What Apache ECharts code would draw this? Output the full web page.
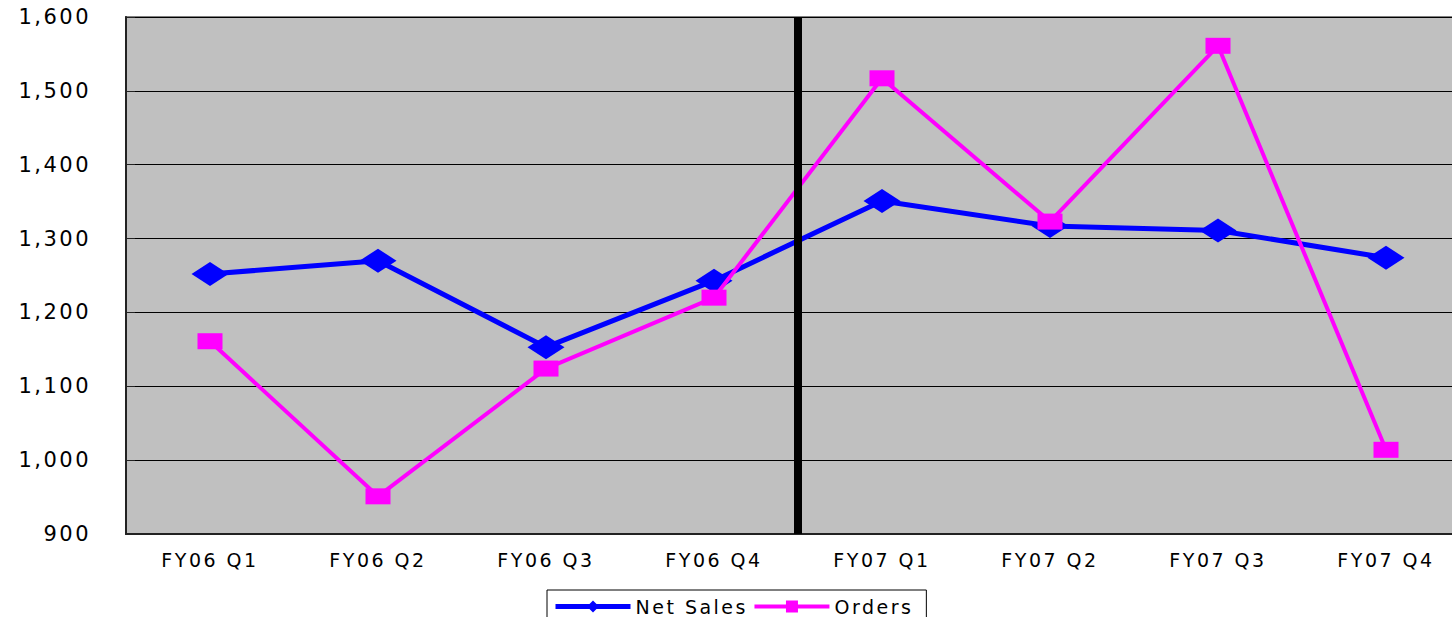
<!DOCTYPE html>
<html>
<head>
<meta charset="utf-8">
<title>Net Sales and Orders</title>
<script src="https://cdn.jsdelivr.net/npm/echarts@6/dist/echarts.min.js"></script>
<style>
  html, body { margin: 0; padding: 0; background: #ffffff; overflow: hidden; }
  /* the plot runs a little past the right edge of the window */
  #chart { width: 1470px; height: 617px; }
  #chart text { letter-spacing: 2.5px; }
</style>
</head>
<body>
<div id="chart"></div>
<script>
// Quarterly figures
const quarters = ['FY06 Q1', 'FY06 Q2', 'FY06 Q3', 'FY06 Q4', 'FY07 Q1', 'FY07 Q2', 'FY07 Q3', 'FY07 Q4'];
const netSales = [1252, 1270, 1153, 1243, 1351, 1317, 1311, 1274];
const orders = [1161, 951, 1124, 1220, 1517, 1323, 1561, 1014];
const seriesNames = ['Net Sales', 'Orders'];
const yMin = 900, yMax = 1600, yStep = 100;
// The fiscal-year divider sits where FY07 starts
const fyStart = quarters.indexOf('FY07 Q1');

const font = '"DejaVu Sans", Verdana, sans-serif';

const chart = echarts.init(document.getElementById('chart'), null, { renderer: 'svg' });

chart.setOption({
  animation: false,
  backgroundColor: '#ffffff',
  textStyle: { fontFamily: font, color: '#000' },
  grid: {
    left: 126, top: 17, right: 0, bottom: 83,
    show: true,
    backgroundColor: '#c0c0c0',
    borderColor: '#808080',
    borderWidth: 2
  },
  legend: {
    data: [
      { name: seriesNames[0], lineStyle: { width: 5 } },
      { name: seriesNames[1], lineStyle: { width: 4 } }
    ],
    left: 547, top: 590,
    orient: 'horizontal',
    itemWidth: 75, itemHeight: 15,
    itemGap: 27,
    padding: [7, 28, 6, 6],
    borderColor: '#000',
    borderWidth: 1,
    backgroundColor: '#ffffff',
    textStyle: { fontFamily: font, fontSize: 19, color: '#000', padding: [4, 0, 0, 0] }
  },
  xAxis: [
    {
      type: 'category',
      data: quarters,
      boundaryGap: true,
      axisLine: { lineStyle: { color: '#222', width: 2 } },
      axisTick: { inside: true, length: 6, lineStyle: { color: '#222', width: 1 } },
      axisLabel: { interval: 0, margin: 16, fontSize: 19, color: '#000', fontFamily: font },
      splitLine: { show: false }
    },
    {
      type: 'value',
      min: 0, max: quarters.length,
      show: false
    }
  ],
  yAxis: {
    type: 'value',
    min: yMin, max: yMax, interval: yStep,
    axisLine: { show: true, lineStyle: { color: '#222', width: 2 } },
    axisTick: { show: true, inside: true, length: 9, lineStyle: { color: '#222', width: 1 } },
    axisLabel: {
      margin: 35, fontSize: 21, color: '#000', fontFamily: font,
      formatter: v => v.toLocaleString('en-US')
    },
    splitLine: { show: true, lineStyle: { color: '#000', width: 1 } }
  },
  series: [
    {
      name: seriesNames[0],
      type: 'line',
      data: netSales,
      symbol: 'diamond',
      symbolSize: [37, 24],
      color: '#0000ff',
      lineStyle: { color: '#0000ff', width: 5 },
      itemStyle: { color: '#0000ff', borderWidth: 0 },
      z: 2
    },
    {
      name: seriesNames[1],
      type: 'line',
      data: orders,
      symbol: 'rect',
      symbolSize: [25, 16],
      color: '#ff00ff',
      lineStyle: { color: '#ff00ff', width: 4 },
      itemStyle: { color: '#ff00ff', borderWidth: 0 },
      z: 3
    },
    {
      // fiscal-year divider
      name: 'divider',
      type: 'line',
      xAxisIndex: 1,
      data: [],
      z: 10,
      silent: true,
      markLine: {
        silent: true,
        symbol: ['none', 'none'],
        label: { show: false },
        lineStyle: { color: '#000', width: 8, type: 'solid' },
        data: [{ xAxis: fyStart }]
      }
    }
  ]
});
</script>
</body>
</html>
